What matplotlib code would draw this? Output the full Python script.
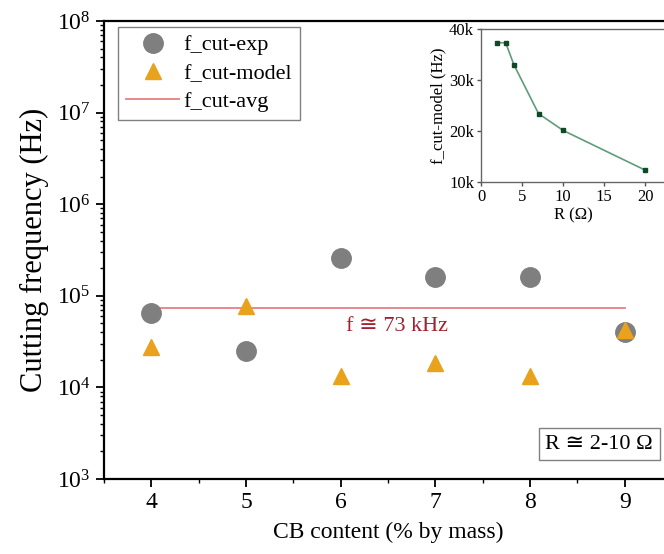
import numpy as np
import matplotlib.pyplot as plt

plt.rcParams['font.family'] = ['Liberation Serif', 'DejaVu Serif', 'DejaVu Sans']
plt.rcParams['mathtext.fontset'] = 'stix'

# main chart data
cb_content = [4, 5, 6, 7, 8, 9]
f_cut_exp = [6.5e4, 2.5e4, 2.6e5, 1.6e5, 1.6e5, 4.0e4]
f_cut_model = [2.75e4, 7.7e4, 1.33e4, 1.85e4, 1.33e4, 4.2e4]
f_cut_avg = 7.3e4

# inset data
r_ohm = [2, 3, 4, 7, 10, 20]
f_model_r = [37.3e3, 37.3e3, 33.0e3, 23.4e3, 20.1e3, 12.3e3]

fig = plt.figure(figsize=(6.64, 5.54), dpi=100)
ax = fig.add_axes([104 / 664, 1 - 479 / 554, 568 / 664, 458 / 554])

ax.semilogy(cb_content, f_cut_exp, 'o', color='#7f7f7f', markersize=14, label='f_cut-exp', zorder=3)
ax.semilogy(cb_content, f_cut_model, '^', color='#e8a21c', markersize=12, label='f_cut-model', zorder=4)
ax.plot([cb_content[0], cb_content[-1]], [f_cut_avg, f_cut_avg], '-', color='#e57f86', lw=1.3,
        label='f_cut-avg', zorder=2)

ax.set_xlim(3.5, 9.5)
ax.set_ylim(1e3, 1e8)
ax.set_xticks(cb_content)
ax.set_xticks(np.arange(3.5, 9.6, 0.5), minor=True)
ax.tick_params(axis='both', which='major', direction='out', length=6, width=1.3, labelsize=17)
ax.tick_params(axis='both', which='minor', direction='out', length=3, width=1)
for s in ['left', 'bottom', 'top', 'right']:
    ax.spines[s].set_linewidth(1.6)
ax.set_xlabel('CB content (% by mass)', fontsize=17, labelpad=6)
ax.set_ylabel('Cutting frequency (Hz)', fontsize=22, labelpad=6)

ax.text(6.6, 4.6e4, 'f ≅ 73 kHz', color='#a3202e', fontsize=16, ha='center', va='center')
ax.text(9.3, 2.4e3, 'R ≅ 2-10 Ω', fontsize=16, ha='right', va='center',
        bbox=dict(boxstyle='square,pad=0.3', fc='white', ec='#808080', lw=1))

leg = ax.legend(loc='upper left', bbox_to_anchor=(0.025, 0.987), borderaxespad=0, fontsize=16,
                fancybox=False, edgecolor='#808080', framealpha=1, handlelength=2.4, borderpad=0.35,
                labelspacing=0.35, handletextpad=0.2)
leg.get_frame().set_linewidth(1)

# inset
axi = fig.add_axes([481 / 664, 1 - 182 / 554, 185 / 664, 153 / 554])
axi.plot(r_ohm, f_model_r, '-', color='#5f9c7d', lw=1.2)
axi.plot(r_ohm, f_model_r, 's', color='#0d4a26', markersize=3)
axi.set_xlim(0, 22.5)
axi.set_ylim(10e3, 40e3)
axi.set_xticks([0, 5, 10, 15, 20])
axi.set_yticks([10e3, 20e3, 30e3, 40e3])
axi.set_yticklabels(['10k', '20k', '30k', '40k'])
axi.tick_params(axis='both', which='major', direction='out', length=3, width=1, labelsize=12, pad=2,
                color='#555555')
for s in axi.spines.values():
    s.set_color('#666666')
    s.set_linewidth(1)
axi.set_xlabel('R (Ω)', fontsize=12, labelpad=2)
axi.set_ylabel('f_cut-model (Hz)', fontsize=12, labelpad=2)

fig.savefig('out.png', dpi=100)
